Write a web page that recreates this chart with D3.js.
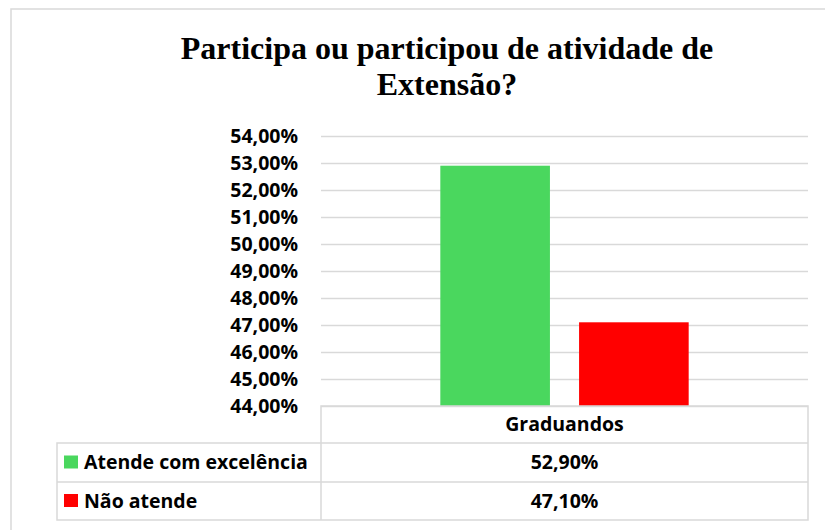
<!DOCTYPE html>
<html>
<head>
<meta charset="utf-8">
<script src="https://cdn.jsdelivr.net/npm/d3@7"></script>
<style>
  body { margin: 0; background: #fff; }
  svg { display: block; }
</style>
</head>
<body>
<div id="chart"></div>
<script>
// chart data
const titleLines = ['Participa ou participou de atividade de', 'Extensão?'];
const categories = ['Graduandos'];
const seriesNames = ['Atende com excelência', 'Não atende'];
const seriesValues = [52.90, 47.10];
const seriesColors = ['#4ad75e', '#ff0000'];
const yTickValues = [44, 45, 46, 47, 48, 49, 50, 51, 52, 53, 54];

const width = 825;
const height = 530;

const fmt = v => d3.format('.2f')(v).replace('.', ',') + '%';

const svg = d3.select('#chart')
.append('svg')
.attr('width', width)
.attr('height', height);

// outer frame
svg.append('rect')
.attr('x', 11)
.attr('y', 9)
.attr('width', 830)
.attr('height', 540)
.attr('fill', 'none')
.attr('stroke', '#d9d9d9')
.attr('stroke-width', 1.5);

// title
svg.append('g')
.selectAll('text')
.data(titleLines)
.enter()
.append('text')
.attr('x', 447)
.attr('y', (d, i) => 59 + i * 36)
.attr('text-anchor', 'middle')
.style('font-family', '"Liberation Serif", "Times New Roman", serif')
.style('font-weight', 'bold')
.style('font-size', '32px')
.text(d => d);

const plotLeft = 321, plotRight = 808, plotTop = 136, plotBottom = 406;

let y = d3.scaleLinear()
.domain([44, 54])
.range([plotBottom, plotTop]);

let x = d3.scaleBand()
.domain(categories)
.range([plotLeft, plotRight]);

let xs = d3.scaleBand()
.domain(seriesNames)
.range([0, x.bandwidth()])
.paddingInner(0.21)
.paddingOuter(0.86);

const labelFont = sel => sel
.style('font-family', '"Open Sans", "Noto Sans", sans-serif')
.style('font-weight', 'bold')
.style('font-size', '19.5px')
.attr('fill', '#000');

// gridlines + y labels
const yAxis = svg.append('g')
.attr('transform', `translate(${plotLeft},0)`)
.call(d3.axisLeft(y).tickValues(yTickValues).tickSize(-(plotRight - plotLeft)).tickPadding(23).tickFormat(fmt));

yAxis.select('.domain').remove();
yAxis.selectAll('.tick line')
.attr('stroke', '#d9d9d9')
.attr('stroke-width', 1.5);
yAxis.selectAll('.tick text')
.call(labelFont);

// bars
svg.append('g')
.selectAll('rect')
.data(seriesNames)
.enter()
.append('rect')
.attr('x', (d, i) => x(categories[0]) + xs(d))
.attr('y', (d, i) => y(seriesValues[i]))
.attr('width', xs.bandwidth())
.attr('height', (d, i) => plotBottom - y(seriesValues[i]))
.attr('fill', (d, i) => seriesColors[i]);

// data table below the axis
const tableLeft = 57;
const rowHeights = [37, 39, 38];
const rowTops = [plotBottom, plotBottom + rowHeights[0], plotBottom + rowHeights[0] + rowHeights[1]];
const tableBottom = rowTops[2] + rowHeights[2];

const table = svg.append('g')
.attr('stroke', '#d9d9d9')
.attr('stroke-width', 1.5)
.attr('fill', 'none');

table.append('path')
.attr('d', `M${plotLeft},${tableBottom}V${plotBottom}H${plotRight}V${tableBottom}H${tableLeft}V${rowTops[1]}H${plotRight}M${tableLeft},${rowTops[2]}H${plotRight}`);

svg.append('text')
.attr('x', x(categories[0]) + x.bandwidth() / 2)
.attr('y', rowTops[0] + rowHeights[0] / 2)
.attr('dy', '0.35em')
.attr('text-anchor', 'middle')
.call(labelFont)
.text(categories[0]);

const rows = svg.append('g')
.selectAll('g')
.data(seriesNames)
.enter()
.append('g')
.attr('transform', (d, i) => `translate(0,${rowTops[i + 1] + rowHeights[i + 1] / 2})`);

rows.append('rect')
.attr('x', 64)
.attr('y', -7)
.attr('width', 14)
.attr('height', 13)
.attr('fill', (d, i) => seriesColors[i]);

rows.append('text')
.attr('x', 84)
.attr('dy', '0.35em')
.call(labelFont)
.text(d => d);

rows.append('text')
.attr('x', x(categories[0]) + x.bandwidth() / 2)
.attr('dy', '0.35em')
.attr('text-anchor', 'middle')
.call(labelFont)
.text((d, i) => fmt(seriesValues[i]));
</script>
</body>
</html>
